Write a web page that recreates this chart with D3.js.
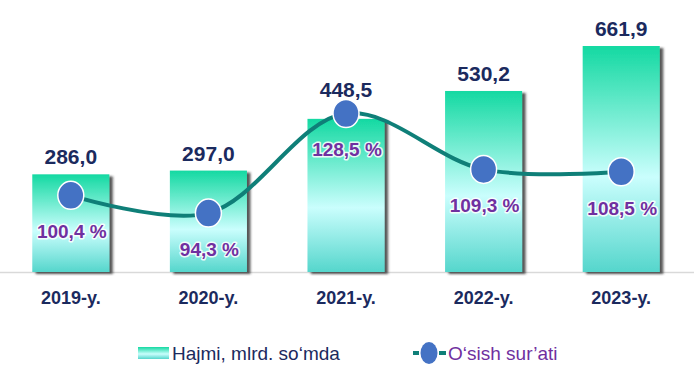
<!DOCTYPE html>
<html>
<head>
<meta charset="utf-8">
<script src="https://cdn.jsdelivr.net/npm/d3@7"></script>
<style>
  body { margin: 0; background: #fff; }
  svg { font-family: "Liberation Sans", Arial, sans-serif; display: block; }
</style>
</head>
<body>
<svg></svg>
<script>
// chart data
const years = ["2019-y.", "2020-y.", "2021-y.", "2022-y.", "2023-y."];
const volume = [286.0, 297.0, 448.5, 530.2, 661.9];
const growth = [100.4, 94.3, 128.5, 109.3, 108.5];

const fmt = v => v.toFixed(1).replace(".", ",");

const W = 694, H = 373;
const svg = d3.select("svg").attr("width", W).attr("height", H);

const x = d3.scaleBand()
    .domain(years)
    .range([2, 690])
    .paddingInner(0.44)
    .paddingOuter(0.22);

const y = d3.scaleLinear()
    .domain([0, 661.9])
    .range([272, 46]);

// secondary scale for the growth line
const y2 = d3.scaleLinear()
    .domain([60, 140])
    .range([313, 80]);

const cx = i => x(years[i]) + x.bandwidth() / 2;

const defs = svg.append("defs");
const grad = defs.append("linearGradient")
    .attr("id", "barGrad")
    .attr("x1", 0).attr("y1", 0).attr("x2", 0).attr("y2", 1);
grad.append("stop").attr("offset", "0%").attr("stop-color", "#14d9a2");
grad.append("stop").attr("offset", "58%").attr("stop-color", "#cafefd");
grad.append("stop").attr("offset", "100%").attr("stop-color", "#55d6cc");

const shadow = defs.append("filter").attr("id", "shadow")
    .attr("x", "-10%").attr("y", "-10%").attr("width", "130%").attr("height", "120%");
shadow.append("feDropShadow")
    .attr("dx", 3.5).attr("dy", 2).attr("stdDeviation", 1)
    .attr("flood-color", "#2a2a2a").attr("flood-opacity", 0.8);

// baseline
svg.append("line")
    .attr("x1", 0).attr("x2", W)
    .attr("y1", y(0) + 0.5).attr("y2", y(0) + 0.5)
    .attr("stroke", "#d9d9d9").attr("stroke-width", 1.5);

// bars
svg.selectAll(".bar")
    .data(volume)
    .join("rect")
    .attr("class", "bar")
    .attr("x", (d, i) => x(years[i]))
    .attr("y", d => y(d))
    .attr("width", x.bandwidth())
    .attr("height", d => y(0) - y(d))
    .attr("fill", "url(#barGrad)")
    .attr("filter", "url(#shadow)");

// bar value labels (lifted clear of a marker sitting on the bar top)
svg.selectAll(".vlabel")
    .data(volume)
    .join("text")
    .attr("class", "vlabel")
    .attr("x", (d, i) => cx(i))
    .attr("y", (d, i) => Math.min(y(d) - 10, y2(growth[i]) - 16))
    .attr("text-anchor", "middle")
    .attr("font-size", 21)
    .attr("font-weight", "bold")
    .attr("fill", "#1b2a5e")
    .text(fmt);

// x axis labels
const xAxis = svg.append("g")
    .attr("transform", `translate(0,${y(0)})`)
    .call(d3.axisBottom(x).tickSize(0).tickPadding(19));
xAxis.select(".domain").remove();
xAxis.selectAll("text")
    .attr("font-size", 18)
    .attr("font-weight", "bold")
    .attr("fill", "#1b2a5e")
    .attr("font-family", "Liberation Sans, Arial, sans-serif");

// growth line
const line = d3.line()
    .x((d, i) => cx(i))
    .y(d => y2(d))
    .curve(d3.curveCatmullRom.alpha(0.5));

svg.append("path")
    .datum(growth)
    .attr("d", line)
    .attr("fill", "none")
    .attr("stroke", "#0f7f78")
    .attr("stroke-width", 4);

svg.selectAll(".dot")
    .data(growth)
    .join("ellipse")
    .attr("class", "dot")
    .attr("cx", (d, i) => cx(i))
    .attr("cy", d => y2(d))
    .attr("rx", 13)
    .attr("ry", 14)
    .attr("fill", "#4472c4")
    .attr("stroke", "#ffffff")
    .attr("stroke-width", 1.5);

// growth labels, white halo behind the glyphs
svg.selectAll(".glabel")
    .data(growth)
    .join("text")
    .attr("class", "glabel")
    .attr("x", (d, i) => cx(i) + 1)
    .attr("y", d => y2(d) + 43)
    .attr("text-anchor", "middle")
    .attr("font-size", 19)
    .attr("font-weight", "bold")
    .attr("fill", "#7030a0")
    .attr("stroke", "#ffffff")
    .attr("stroke-opacity", 0.85)
    .attr("stroke-width", 3)
    .attr("stroke-linejoin", "round")
    .attr("paint-order", "stroke")
    .text(d => fmt(d) + " %");

// legend
const lg = svg.append("g").attr("transform", "translate(0,353)");
lg.append("rect")
    .attr("x", 138).attr("y", -6).attr("width", 31).attr("height", 12)
    .attr("fill", "url(#barGrad)");
lg.append("text")
    .attr("x", 172).attr("y", 7)
    .attr("font-size", 19)
    .attr("fill", "#1b2a5e")
    .text("Hajmi, mlrd. so‘mda");

lg.append("line")
    .attr("x1", 413).attr("x2", 446).attr("y1", 0).attr("y2", 0)
    .attr("stroke", "#0f7f78").attr("stroke-width", 4)
    .attr("stroke-dasharray", "6,20,7");
lg.append("ellipse")
    .attr("cx", 429).attr("cy", 0).attr("rx", 8.5).attr("ry", 11)
    .attr("fill", "#4472c4");
lg.append("text")
    .attr("x", 448).attr("y", 7)
    .attr("font-size", 19)
    .attr("fill", "#7030a0")
    .text("O‘sish sur’ati");
</script>
</body>
</html>
